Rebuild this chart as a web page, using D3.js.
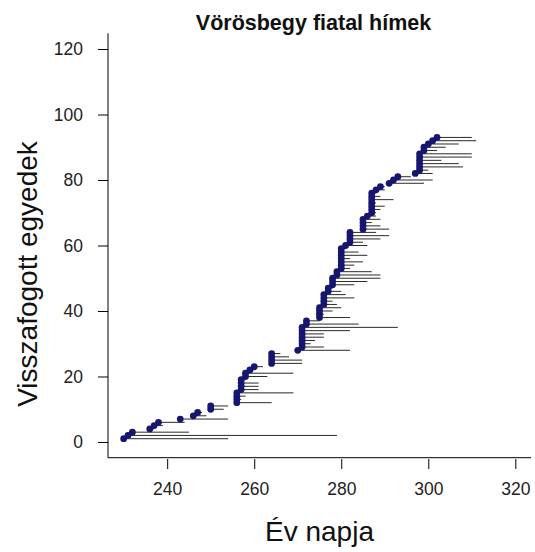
<!DOCTYPE html>
<html>
<head>
<meta charset="utf-8">
<script src="https://cdn.jsdelivr.net/npm/d3@7"></script>
<style>
  html, body { margin: 0; padding: 0; background: #fff; }
  svg { display: block; font-family: Arial, "Liberation Sans", Helvetica, sans-serif; }
</style>
</head>
<body>
<svg id="chart" width="535" height="552"></svg>
<script>
// Individuals in order of first capture: index, first capture day, last recapture day
const individual = d3.range(1, 94);
const firstDay = [
  230, 231, 232, 236, 237, 238, 243, 246, 247, 250,
  250, 256, 256, 256, 256, 257, 257, 257, 257, 258,
  258, 259, 260, 264, 264, 264, 264, 270, 271, 271,
  271, 271, 271, 271, 271, 272, 272, 275, 275, 275,
  275, 276, 276, 276, 276, 277, 277, 278, 278, 278,
  279, 279, 280, 280, 280, 280, 280, 280, 280, 281,
  282, 282, 282, 282, 285, 285, 285, 285, 286, 287,
  287, 287, 287, 287, 287, 287, 288, 289, 291, 292,
  293, 297, 298, 298, 298, 298, 298, 298, 299, 299,
  300, 301, 302
];
const lastDay = [
  254, 279, 245, 237, 239, 244, 254, 249, 248, 253,
  254, 264, 257, 258, 269, 261, 261, 261, 258, 263,
  269, 260, 262, 271, 271, 268, 266, 282, 276, 273,
  274, 276, 276, 282, 293, 284, 275, 282, 276, 278,
  280, 279, 278, 283, 281, 280, 278, 283, 286, 289,
  289, 287, 282, 283, 285, 282, 286, 284, 281, 286,
  285, 289, 291, 288, 291, 289, 287, 289, 288, 288,
  289, 290, 288, 292, 289, 288, 290, 290, 299, 301,
  296, 301, 300, 308, 307, 303, 310, 310, 302, 304,
  307, 311, 310
];
const xTicks = [240, 260, 280, 300, 320];
const yTicks = [0, 20, 40, 60, 80, 100, 120];

const titleText = "Vörösbegy fiatal hímek";
const xLabel = "Év napja";
const yLabel = "Visszafogott egyedek";

const svg = d3.select("#chart");

// Plot region with 4% padding on both axes, as in base R graphics
const xLim = [230, 320], yLim = [0, 120];
const padX = (xLim[1] - xLim[0]) * 0.04, padY = (yLim[1] - yLim[0]) * 0.04;
const plot = { left: 108, right: 531, top: 33.3, bottom: 457.7 };

const x = d3.scaleLinear().domain([xLim[0] - padX, xLim[1] + padX]).range([plot.left, plot.right]);
const y = d3.scaleLinear().domain([yLim[0] - padY, yLim[1] + padY]).range([plot.bottom, plot.top]);

const rows = individual.map((id, k) => ({ id, first: firstDay[k], last: lastDay[k] }));

// L-shaped frame
svg.append("path")
  .attr("d", `M${plot.left},${plot.top}V${plot.bottom}H${plot.right}`)
  .attr("fill", "none").attr("stroke", "#000").attr("stroke-width", 1);

// Residence segments: first capture to last recapture
svg.append("g").selectAll("line").data(rows.filter(d => d.last > d.first)).join("line")
  .attr("x1", d => x(d.first)).attr("x2", d => x(d.last))
  .attr("y1", d => y(d.id)).attr("y2", d => y(d.id))
  .attr("stroke", "#2a2a2a").attr("stroke-width", 1);

// First-capture points
svg.append("g").selectAll("circle").data(rows).join("circle")
  .attr("cx", d => x(d.first)).attr("cy", d => y(d.id))
  .attr("r", 3.4).attr("fill", "#16166e");

// Axes, detached from the frame like R's axis()
const xAxis = d3.axisBottom(x).tickValues(xTicks).tickSize(10).tickPadding(14).tickFormat(d3.format("d"));
const gx = svg.append("g").attr("transform", `translate(0,${plot.bottom + 1.3})`).call(xAxis);
gx.select(".domain").remove();

const yAxis = d3.axisLeft(y).tickValues(yTicks).tickSize(10).tickPadding(15).tickFormat(d3.format("d"));
const gy = svg.append("g").attr("transform", `translate(${plot.left},0)`).call(yAxis);
gy.select(".domain").remove();

[gx, gy].forEach(g => {
  g.selectAll("text").attr("font-size", 17.5).attr("fill", "#222").attr("font-family", "Arial, 'Liberation Sans', sans-serif");
  g.selectAll("line").attr("stroke", "#000");
});

// Title and axis labels
svg.append("text").attr("x", (plot.left + plot.right) / 2 - 6).attr("y", 30)
  .attr("text-anchor", "middle").attr("font-weight", "bold").attr("font-size", 21.5)
  .attr("fill", "#111").text(titleText);

svg.append("text").attr("x", (plot.left + plot.right) / 2).attr("y", 541)
  .attr("text-anchor", "middle").attr("font-size", 28).attr("fill", "#111").text(xLabel);

svg.append("text").attr("transform", "translate(37,274) rotate(-90)")
  .attr("text-anchor", "middle").attr("font-size", 28).attr("fill", "#111").text(yLabel);
</script>
</body>
</html>
